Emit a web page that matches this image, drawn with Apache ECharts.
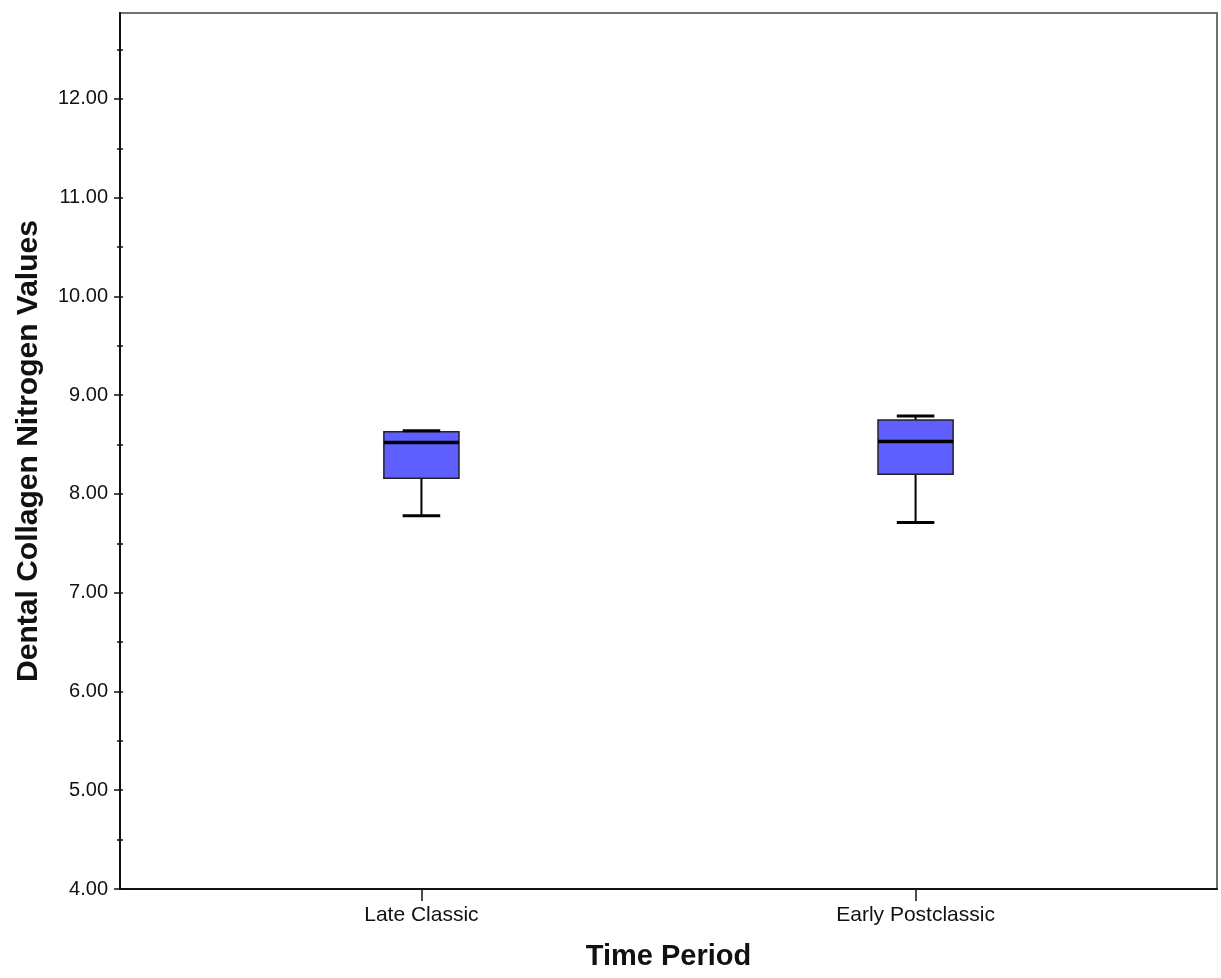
<!DOCTYPE html>
<html>
<head>
<meta charset="utf-8">
<script src="https://cdn.jsdelivr.net/npm/echarts@6/dist/echarts.min.js"></script>
<style>
html,body{margin:0;padding:0;background:#fff;}
#chart{width:1221px;height:978px;}
</style>
</head>
<body>
<div id="chart"></div>
<script>
// ---- data ----
const categories = ['Late Classic', 'Early Postclassic'];
const minVals    = [7.78, 7.71];
const q1Vals     = [8.16, 8.20];
const medianVals = [8.52, 8.53];
const q3Vals     = [8.63, 8.75];
const maxVals    = [8.64, 8.79];
const yMajorTicks = [4, 5, 6, 7, 8, 9, 10, 11, 12];
const yMinorTicks = [4.5, 5.5, 6.5, 7.5, 8.5, 9.5, 10.5, 11.5, 12.5];
const yAllTicks = [4, 4.5, 5, 5.5, 6, 6.5, 7, 7.5, 8, 8.5, 9, 9.5, 10, 10.5, 11, 11.5, 12, 12.5];
const xTicks = [0, 1];

const FONT = '"Liberation Sans", Arial, sans-serif';
const BOX_W = 0.152;   // box width in x-axis units
const CAP_W = 0.076;   // whisker cap width in x-axis units

const boxData = categories.map((c, i) => [i, minVals[i], q1Vals[i], medianVals[i], q3Vals[i], maxVals[i]]);

function renderBox(params, api) {
  const x = api.value(0);
  const pMin = api.coord([x, api.value(1)]);
  const pQ1 = api.coord([x, api.value(2)]);
  const pMed = api.coord([x, api.value(3)]);
  const pQ3 = api.coord([x, api.value(4)]);
  const pMax = api.coord([x, api.value(5)]);
  const bw = api.size([BOX_W, 0])[0];
  const cw = api.size([CAP_W, 0])[0];
  const cx = pMed[0];
  const lineStyle = {stroke: '#000', lineWidth: 2};
  return {
    type: 'group',
    children: [
      {type: 'line', shape: {x1: cx, y1: pQ1[1], x2: cx, y2: pMin[1]}, style: lineStyle},
      {type: 'line', shape: {x1: cx, y1: pQ3[1], x2: cx, y2: pMax[1]}, style: lineStyle},
      {type: 'rect', shape: {x: cx - bw / 2, y: pQ3[1], width: bw, height: pQ1[1] - pQ3[1]},
        style: {fill: '#5f5fff', stroke: '#222', lineWidth: 1.5}},
      {type: 'line', shape: {x1: cx - bw / 2, y1: pMed[1], x2: cx + bw / 2, y2: pMed[1]},
        style: {stroke: '#000', lineWidth: 3.5}},
      {type: 'line', shape: {x1: cx - cw / 2, y1: pMin[1], x2: cx + cw / 2, y2: pMin[1]},
        style: {stroke: '#000', lineWidth: 3}},
      {type: 'line', shape: {x1: cx - cw / 2, y1: pMax[1], x2: cx + cw / 2, y2: pMax[1]},
        style: {stroke: '#000', lineWidth: 3}}
    ]
  };
}

const chart = echarts.init(document.getElementById('chart'), null, {renderer: 'canvas'});
const yBase = {type: 'value', min: 4, max: 12.87, interval: 1, position: 'left', offset: 0, splitLine: {show: false}};
chart.setOption({
  animation: false,
  backgroundColor: '#fff',
  grid: {left: 120, right: 4, top: 13, bottom: 89, show: true, borderColor: '#707070', borderWidth: 2, backgroundColor: 'transparent'},
  xAxis: {
    type: 'value', min: -0.61, max: 1.61,
    name: 'Time Period', nameLocation: 'middle', nameGap: 53,
    nameTextStyle: {fontFamily: FONT, fontSize: 29, fontWeight: 'bold', color: '#111'},
    axisLine: {show: true, onZero: false, lineStyle: {color: '#111', width: 2}},
    axisTick: {show: true, customValues: xTicks, length: 12, lineStyle: {color: '#111', width: 1.5}},
    axisLabel: {show: true, customValues: xTicks, margin: 16, fontFamily: FONT, fontSize: 21, color: '#111',
      formatter: v => categories[Math.round(v)]},
    splitLine: {show: false}
  },
  yAxis: [
    Object.assign({}, yBase, {
      name: 'Dental Collagen Nitrogen Values', nameLocation: 'middle', nameGap: 76,
      nameTextStyle: {fontFamily: FONT, fontSize: 30, fontWeight: 'bold', color: '#111'},
      axisLine: {show: true, onZero: false, lineStyle: {color: '#111', width: 2}},
      axisTick: {show: true, customValues: yMajorTicks, length: 6, lineStyle: {color: '#111', width: 1.5}},
      axisLabel: {show: true, customValues: yMajorTicks, margin: 12, fontFamily: FONT, fontSize: 20, color: '#111',
        formatter: v => v.toFixed(2)}
    }),
    Object.assign({}, yBase, {
      axisLine: {show: false, onZero: false},
      axisTick: {show: true, customValues: yMinorTicks, length: 3, lineStyle: {color: '#111', width: 1.5}},
      axisLabel: {show: false}
    }),
    Object.assign({}, yBase, {
      axisLine: {show: false, onZero: false},
      axisTick: {show: true, inside: true, customValues: yAllTicks, length: 3, lineStyle: {color: '#111', width: 1.5}},
      axisLabel: {show: false}
    })
  ],
  series: [{
    type: 'custom',
    renderItem: renderBox,
    encode: {x: 0, y: [1, 2, 3, 4, 5]},
    data: boxData,
    clip: false
  }]
});
</script>
</body>
</html>
